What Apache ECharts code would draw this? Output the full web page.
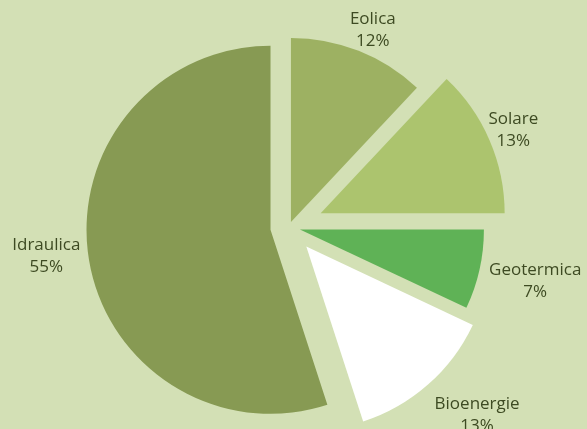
<!DOCTYPE html>
<html>
<head>
<meta charset="utf-8">
<script src="https://cdn.jsdelivr.net/npm/echarts@6/dist/echarts.min.js"></script>
<style>
  html, body { margin: 0; padding: 0; background: #d3e0b5; }
  #chart { width: 587px; height: 429px; }
</style>
</head>
<body>
<div id="chart"></div>
<script>
// Energy sources and their share (%)
const categories = ['Eolica', 'Solare', 'Geotermica', 'Bioenergie', 'Idraulica'];
const shares = [12, 13, 7, 13, 55];

// Per-slice styling: fill colour, explode distance, label placement
const sliceColors = ['#9db162', '#acc46e', '#5fb256', '#ffffff', '#879a53'];
const explode = [5.4, 34.5, 11.2, 26.2, 18.7];
const labelLen = [22, 26, 52, 41, 43];
const labelLen2 = [6, 0, 5, 22, 0];
const labelDy = [0, 0, 0, 0, -9];

const chart = echarts.init(document.getElementById('chart'), null, { renderer: 'canvas' });

// One pie layer per slice, so each slice can be pulled out by its own distance.
// Every layer holds the full data set; only its own slice is painted.
const series = categories.map((cat, i) => ({
  type: 'pie',
  center: ['49.23%', '52.9%'],
  radius: 184,
  startAngle: 90,
  clockwise: true,
  avoidLabelOverlap: false,
  selectedMode: 'multiple',
  selectedOffset: explode[i],
  silent: true,
  animation: false,
  emphasis: { disabled: true },
  label: {
    show: true,
    position: 'outside',
    formatter: '{b}\n{d}%',
    color: '#3d4a22',
    fontFamily: 'Open Sans',
    fontSize: 17,
    lineHeight: 22,
    distanceToLabelLine: 0
  },
  labelLine: { show: false, length: labelLen[i], length2: labelLen2[i] },
  labelLayout: { align: 'center', dy: labelDy[i] },
  data: categories.map((name, j) => ({
    name: name,
    value: shares[j],
    selected: j === i,
    itemStyle: { color: j === i ? sliceColors[j] : 'rgba(0,0,0,0)' },
    label: { show: j === i }
  }))
}));

chart.setOption({
  backgroundColor: '#d3e0b5',
  animation: false,
  series: series
});
</script>
</body>
</html>
